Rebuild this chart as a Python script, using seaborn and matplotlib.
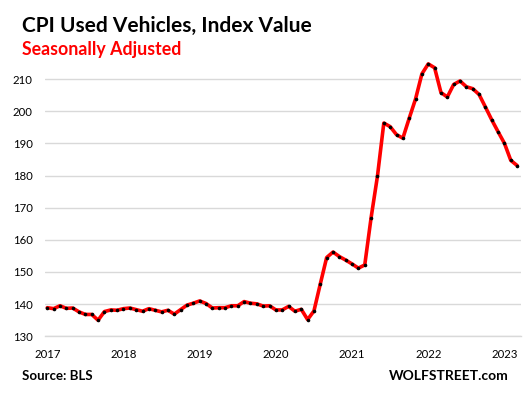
import numpy as np
import pandas as pd
import seaborn as sns
import matplotlib.pyplot as plt

# CPI used vehicles, seasonally adjusted, monthly Jan 2017 - Mar 2023
cpi_2017 = [138.9, 138.6, 139.5, 138.7, 138.8, 137.6, 136.8, 136.8, 135.0, 137.7, 138.2, 138.1]
cpi_2018 = [138.6, 138.8, 138.3, 137.8, 138.6, 138.1, 137.6, 138.1, 136.9, 138.3, 139.7, 140.3]
cpi_2019 = [141.0, 140.2, 138.8, 138.9, 138.9, 139.5, 139.5, 140.8, 140.3, 140.1, 139.4, 139.5]
cpi_2020 = [138.2, 138.2, 139.3, 137.8, 138.4, 135.2, 137.9, 146.3, 154.5, 156.2, 154.8, 153.7]
cpi_2021 = [152.5, 151.2, 152.2, 166.9, 179.8, 196.3, 195.2, 192.7, 191.6, 197.8, 203.8, 211.6]
cpi_2022 = [214.7, 213.5, 205.8, 204.4, 208.3, 209.4, 207.6, 207.0, 205.2, 201.3, 197.3, 193.6]
cpi_2023 = [190.0, 184.7, 183.1]

years = ["2017", "2018", "2019", "2020", "2021", "2022", "2023"]
y_ticks = [130, 140, 150, 160, 170, 180, 190, 200, 210]

values = cpi_2017 + cpi_2018 + cpi_2019 + cpi_2020 + cpi_2021 + cpi_2022 + cpi_2023
df = pd.DataFrame({"month": np.arange(len(values)), "cpi": values})

sns.set_style("white")
plt.rcParams["font.family"] = ["Lato", "DejaVu Sans"]

fig = plt.figure(figsize=(5.25, 3.94), dpi=100)
ax = fig.add_axes([0.0857, 0.1464, 0.906, 0.702])

sns.lineplot(data=df, x="month", y="cpi", ax=ax, color="#ff0000", linewidth=2.6,
             marker="o", markersize=2.6, markerfacecolor="black",
             markeredgecolor="black", markeredgewidth=0, zorder=3)

ax.set_xlim(-0.36, 74.55)
ax.set_ylim(130, 216)
ax.set_yticks(y_ticks)
ax.set_yticklabels([str(v) for v in y_ticks])
ax.set_xticks([12 * i for i in range(len(years))])
ax.set_xticklabels(years)
ax.set_xticks([12 * i - 0.25 for i in range(len(years))], minor=True)
ax.tick_params(axis="x", which="major", length=0, pad=9, labelsize=8.2, colors="black")
ax.tick_params(axis="x", which="minor", length=4, width=1, color="#d9d9d9", direction="out")
ax.tick_params(axis="y", length=0, pad=9, labelsize=8.2, colors="black")
ax.set_xlabel("")
ax.set_ylabel("")

ax.grid(axis="y", color="#d9d9d9", linewidth=1)
ax.set_axisbelow(True)
for side in ["top", "right", "left"]:
    ax.spines[side].set_visible(False)
ax.spines["bottom"].set_color("#d9d9d9")
ax.spines["bottom"].set_linewidth(1)

fig.text(0.042, 0.935, "CPI Used Vehicles, Index Value", fontsize=15,
         fontweight="bold", color="black", va="center", ha="left")
fig.text(0.042, 0.875, "Seasonally Adjusted", fontsize=12.8,
         fontweight="bold", color="#ff0000", va="center", ha="left")
fig.text(0.042, 0.045, "Source: BLS", fontsize=9.5, fontweight="bold",
         color="black", va="center", ha="left")
fig.text(0.968, 0.045, "WOLFSTREET.com", fontsize=10, fontweight="bold",
         color="black", va="center", ha="right")

fig.savefig("out.png", dpi=100)
